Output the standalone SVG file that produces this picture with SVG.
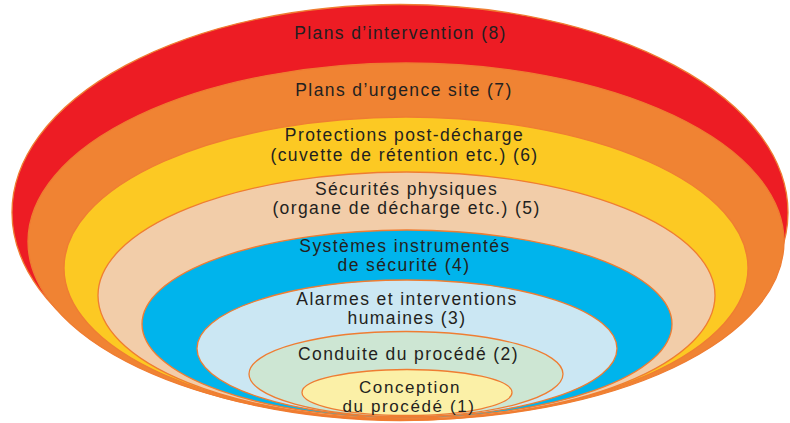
<svg xmlns="http://www.w3.org/2000/svg" width="790" height="423" viewBox="0 0 790 423">
  <style>
    .ring { stroke: #ef7d32; stroke-width: 1.3; }
    .lbl { font-family: "Liberation Sans", Arial, sans-serif; font-size: 17.5px; letter-spacing: 1.4px; fill: #231f20; text-anchor: middle; }
    .lbl.sm { font-size: 17px; letter-spacing: 1.6px; }
  </style>
  <rect width="790" height="423" fill="#ffffff"/>

  <!-- Layers of protection, outermost first -->
  <g id="layer8">
    <ellipse class="ring" cx="400" cy="212.5" rx="388" ry="208" fill="#ed1c24"/>
    <text class="lbl" x="400.5" y="39">Plans d’intervention (8)</text>
  </g>
  <g id="layer7">
    <ellipse class="ring" cx="406" cy="241.5" rx="378" ry="178.5" fill="#f08333"/>
    <text class="lbl" x="404" y="95.5">Plans d’urgence site (7)</text>
  </g>
  <g id="layer6">
    <ellipse class="ring" cx="406" cy="268" rx="342" ry="151" fill="#fcc923"/>
    <text class="lbl" x="404.5" y="141">Protections post-décharge</text>
    <text class="lbl" x="404.5" y="160.5">(cuvette de rétention etc.) (6)</text>
  </g>
  <g id="layer5">
    <ellipse class="ring" cx="406.5" cy="295.5" rx="308.5" ry="123.5" fill="#f2cda9"/>
    <text class="lbl" x="406.5" y="195">Sécurités physiques</text>
    <text class="lbl" x="406.5" y="214">(organe de décharge etc.) (5)</text>
  </g>
  <g id="layer4">
    <ellipse class="ring" cx="407" cy="324" rx="265" ry="94" fill="#00b4ec"/>
    <text class="lbl" x="405" y="252">Systèmes instrumentés</text>
    <text class="lbl" x="404" y="270.5">de sécurité (4)</text>
  </g>
  <g id="layer3">
    <ellipse class="ring" cx="407" cy="348.5" rx="210" ry="68.5" fill="#cbe7f3"/>
    <text class="lbl" x="407" y="305">Alarmes et interventions</text>
    <text class="lbl" x="407" y="324">humaines (3)</text>
  </g>
  <g id="layer2">
    <ellipse class="ring" cx="406" cy="374" rx="157" ry="42.5" fill="#cde6d3"/>
    <text class="lbl" x="408.5" y="360">Conduite du procédé (2)</text>
  </g>
  <g id="layer1">
    <ellipse class="ring" cx="407" cy="392.5" rx="105" ry="23" fill="#fbf0a7"/>
    <text class="lbl sm" x="410" y="393">Conception</text>
    <text class="lbl sm" x="409" y="412.2">du procédé (1)</text>
  </g>

  <g id="connectors"/>
</svg>
